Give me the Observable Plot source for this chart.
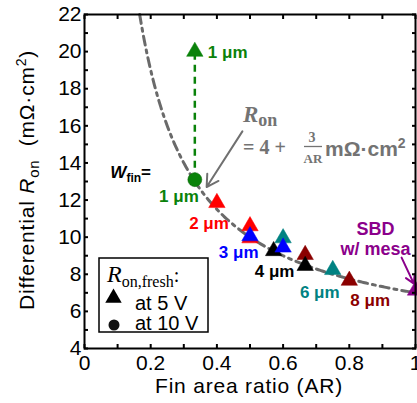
<!DOCTYPE html>
<html><head><meta charset="utf-8">
<script src="https://cdn.jsdelivr.net/npm/d3@7"></script>
<script src="https://cdn.jsdelivr.net/npm/@observablehq/plot@0.6"></script>
<style>
html,body{margin:0;padding:0;background:#fff;}
#chart svg{display:block;}
</style></head><body><div id="chart"></div>
<script>
// ---------- data ----------
const finWidth = ["2 μm","2 μm","2 μm","6 μm","6 μm","8 μm","8 μm","4 μm","4 μm","3 μm","3 μm","1 μm","SBD"];
const arAt5V   = [0.4, 0.5, 0.5, 0.6, 0.75, 0.6667, 0.8, 0.5714, 0.6667, 0.5, 0.6, 0.3333, 1.0];
const ronAt5V  = [11.85, 10.6, 9.95, 9.95, 8.24, 9.05, 7.66, 9.26, 8.46, 10.06, 9.45, 20.0, 7.13];
const arAt10V  = [0.3333];
const ronAt10V = [13.1];
const widthKeys   = ["1 μm","2 μm","3 μm","4 μm","6 μm","8 μm","SBD"];
const widthColors = ["#0a820a","#ff0000","#0000ff","#000000","#008282","#8b0000","#8b008b"];
const fitIntercept = 4, fitSlope = 3;           // Ron = 4 + 3/AR
const xMinorTicks = [0,0.1,0.2,0.3,0.4,0.5,0.6,0.7,0.8,0.9,1];
const xLabelTicks = [0,0.2,0.4,0.6,0.8,1];
const yMinorTicks = [4,5,6,7,8,9,10,11,12,13,14,15,16,17,18,19,20,21,22];
const yLabelTicks = [4,6,8,10,12,14,16,18,20,22];

// ---------- derived tables ----------
const rows5V = arAt5V.map((a, i) => ({ar: a, ron: ronAt5V[i], w: finWidth[i]}));
const rows10V = arAt10V.map((a, i) => ({ar: a, ron: ronAt10V[i], w: "1 μm"}));
const fitStart = fitSlope / (22 - fitIntercept);
const fitRows = d3.range(fitStart, 1.0001, 0.004).map(a => ({ar: a, ron: fitIntercept + fitSlope / a}));
const col = w => widthColors[widthKeys.indexOf(w)];
const green5V = rows5V[finWidth.indexOf("1 μm")];
const fmtX = d => xLabelTicks.includes(d) ? String(+d.toFixed(1)) : "";
const fmtY = d => yLabelTicks.includes(d) ? String(d) : "";

const label = (row, txt, dx, dy, anchor, size = 17) =>
  Plot.text([row], {x: "ar", y: "ron", text: () => txt, dx, dy, textAnchor: anchor,
    fill: col(row.w), fontWeight: "bold", fontSize: size, lineHeight: 1.1});

const chart = Plot.plot({
  width: 417, height: 403,
  marginLeft: 84, marginRight: 2, marginTop: 14, marginBottom: 55,
  x: {domain: [0, 1], label: null},
  y: {domain: [4, 22], label: null},
  color: {domain: widthKeys, range: widthColors},
  style: {fontFamily: "'Liberation Sans', Arial, sans-serif", fontSize: "21px", color: "#000", background: "#fff", overflow: "visible"},
  marks: [
    Plot.line(fitRows, {x: "ar", y: "ron", stroke: "#6a6a6a", strokeWidth: 3, strokeDasharray: "9,5,3,5"}),
    Plot.link([{a: green5V, b: rows10V[0]}], {x1: d => d.b.ar, y1: d => d.b.ron, x2: d => d.a.ar, y2: d => d.a.ron,
      stroke: "#0a820a", strokeWidth: 2.5, strokeDasharray: "7,5"}),
    Plot.arrow([{x1: 0.477, y1: 15.7, x2: 0.369, y2: 12.7}], {x1: "x1", y1: "y1", x2: "x2", y2: "y2",
      stroke: "#707070", strokeWidth: 2, headLength: 10}),
    Plot.arrow([{x1: 0.958, y1: 8.9, x2: 0.995, y2: 7.5}], {x1: "x1", y1: "y1", x2: "x2", y2: "y2",
      stroke: "#8b008b", strokeWidth: 2, headLength: 9}),
    Plot.dot(rows5V, {x: "ar", y: "ron", symbol: "triangle", r: 6.1, fill: "w", stroke: "w", strokeWidth: 0.5}),
    Plot.dot(rows10V, {x: "ar", y: "ron", r: 7, fill: "#0a820a", stroke: "#066006", strokeWidth: 0.5}),
    label(green5V, "1 μm", 13, 0, "start"),
    label(rows10V[0], "1 μm", 4, 16, "end"),
    label(rows5V[0], "2 μm", 12, 20.5, "end"),
    label(rows5V[9], "3 μm", 8.5, 15.5, "end"),
    label(rows5V[7], "4 μm", 1, 20.5, "middle"),
    label(rows5V[4], "6 μm", -13, 21.7, "middle"),
    label(rows5V[6], "8 μm", 1, 19, "start"),
    label(rows5V[12], "SBD\nw/ mesa", -40, -52, "middle", 18),
    Plot.frame({stroke: "#000", strokeWidth: 2}),
    Plot.axisX(xMinorTicks, {anchor: "bottom", tickSize: -4, tickPadding: 11, strokeWidth: 2, tickFormat: fmtX, label: null, fontSize: 21, fill: "#000"}),
    Plot.axisX(xMinorTicks, {anchor: "top", tickSize: -4, strokeWidth: 2, tickFormat: () => "", label: null}),
    Plot.axisY(yMinorTicks, {anchor: "left", tickSize: -4, tickPadding: 7, strokeWidth: 2, tickFormat: fmtY, label: null, fontSize: 21, fill: "#000"}),
    Plot.axisY(yMinorTicks, {anchor: "right", tickSize: -4, strokeWidth: 2, tickFormat: () => "", label: null})
  ]
});
document.getElementById("chart").appendChild(chart);

// ---------- rich-text annotations ----------
const svg = d3.select(chart);
const serif = "'Liberation Serif', 'DejaVu Serif', serif";
const sans = "'Liberation Sans', Arial, sans-serif";
const gray = "#737373";
const ann = svg.append("g").attr("text-anchor", "start");

// W_fin =
const wf = ann.append("text").attr("x", 151).attr("y", 178).attr("text-anchor", "end")
  .attr("font-family", sans).attr("font-weight", "bold").attr("fill", "#000");
wf.append("tspan").attr("font-style", "italic").attr("font-size", 17).text("W");
wf.append("tspan").attr("font-size", 12).attr("dy", 4).text("fin");
wf.append("tspan").attr("font-size", 17).attr("dy", -4).text("=");

// R_on = 4 + 3/AR mΩ·cm²
const r1 = ann.append("text").attr("x", 243).attr("y", 122).attr("fill", gray)
  .attr("font-family", serif).attr("font-weight", "bold");
r1.append("tspan").attr("font-style", "italic").attr("font-size", 23).text("R");
r1.append("tspan").attr("font-size", 18).attr("dy", 4).text("on");
ann.append("text").attr("x", 243).attr("y", 154).attr("fill", gray)
  .attr("font-family", serif).attr("font-weight", "bold").attr("font-size", 20).text("= 4 +");
ann.append("text").attr("x", 312).attr("y", 142).attr("text-anchor", "middle").attr("fill", gray)
  .attr("font-family", serif).attr("font-weight", "bold").attr("font-size", 14).text("3");
ann.append("line").attr("x1", 304).attr("x2", 322).attr("y1", 146.5).attr("y2", 146.5)
  .attr("stroke", gray).attr("stroke-width", 1.3);
ann.append("text").attr("x", 313).attr("y", 163).attr("text-anchor", "middle").attr("fill", gray)
  .attr("font-family", serif).attr("font-weight", "bold").attr("font-size", 13).text("AR");
const unit = ann.append("text").attr("x", 325).attr("y", 156).attr("fill", gray)
  .attr("font-family", sans).attr("font-weight", "bold").attr("font-size", 21);
unit.append("tspan").text("mΩ·cm");
unit.append("tspan").attr("font-size", 14).attr("dy", -8).text("2");

// legend
const lg = ann.append("g");
lg.append("rect").attr("x", 99).attr("y", 258).attr("width", 109).attr("height", 74)
  .attr("fill", "#fff").attr("stroke", "#000").attr("stroke-width", 1.5);
const lt = lg.append("text").attr("x", 107).attr("y", 282).attr("font-family", serif).attr("fill", "#000");
lt.append("tspan").attr("font-style", "italic").attr("font-size", 24).text("R");
lt.append("tspan").attr("font-size", 16).attr("dy", 5).text("on,fresh");
lt.append("tspan").attr("font-size", 20).attr("dy", -5).text(":");
lg.append("path").attr("d", d3.symbol(d3.symbolTriangle, 6.1 * 6.1 * Math.PI)())
  .attr("transform", "translate(113.5,298)").attr("fill", "#000");
lg.append("circle").attr("cx", 114).attr("cy", 325).attr("r", 5.5).attr("fill", "#111");
lg.append("text").attr("x", 135).attr("y", 310).attr("font-family", sans).attr("font-size", 20).text("at 5 V");
lg.append("text").attr("x", 135).attr("y", 330).attr("font-family", sans).attr("font-size", 20).text("at 10 V");

// axis titles
const yl = ann.append("text").attr("transform", "translate(34,310) rotate(-90)")
  .attr("font-family", sans).attr("font-size", 21).attr("letter-spacing", 0.8).attr("fill", "#000");
yl.append("tspan").text("Differential ");
yl.append("tspan").attr("font-style", "italic").text("R");
yl.append("tspan").attr("font-size", 15).attr("dy", 5).text("on");
yl.append("tspan").attr("dy", -5).text("\u00a0\u00a0(mΩ·cm");
yl.append("tspan").attr("font-size", 14).attr("dy", -8).text("2");
yl.append("tspan").attr("dy", 8).text(")");
ann.append("text").attr("x", 249).attr("y", 393).attr("text-anchor", "middle")
  .attr("font-family", sans).attr("font-size", 21).attr("letter-spacing", 0.8).attr("fill", "#000")
  .text("Fin area ratio (AR)");
</script></body></html>
